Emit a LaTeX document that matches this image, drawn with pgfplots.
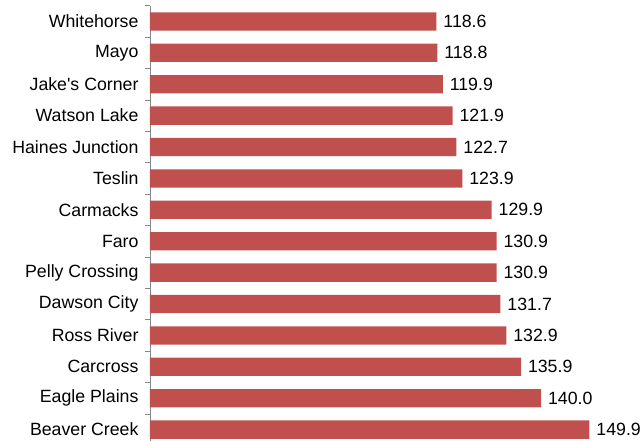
\documentclass[border=0pt]{standalone}
\usepackage{fontspec}
\setmainfont{Liberation Sans}
\usepackage{pgfplots}
\pgfplotsset{compat=1.18}
\definecolor{barred}{HTML}{C0504D}
\definecolor{axgray}{HTML}{868686}
\begin{document}
\begin{tikzpicture}
\begin{axis}[
  name=ax,
  scale only axis,
  width=488.8bp, height=439.6bp,
  xbar, bar width=18.3bp,
  xmin=60, xmax=160,
  ymin=-0.5, ymax=13.5,
  y dir=reverse,
  axis x line=none,
  axis y line*=left,
  y axis line style={axgray, line width=0.8bp},
  ytick={0,...,13},
  yticklabels={Whitehorse, Mayo, Jake\textquotesingle s Corner, Watson Lake, Haines Junction, Teslin, Carmacks, Faro, Pelly Crossing, Dawson City, Ross River, Carcross, Eagle Plains, Beaver Creek},
  major tick length=0pt,
  extra y ticks={-0.5,0.5,...,13.5},
  extra y tick labels={},
  extra y tick style={major tick length=5bp, tick align=outside, tick style={axgray, line width=0.8bp}},
  yticklabel style={font=\fontsize{17.8}{20}\selectfont, black, xshift=-8bp},
  point meta=x,
  nodes near coords,
  nodes near coords style={font=\fontsize{17.8}{20}\selectfont, black, anchor=west, xshift=3.5bp},
  /pgf/number format/.cd, fixed, fixed zerofill, precision=1, assume math mode=true,
]
\addplot[fill=barred, draw=none] coordinates {
  (118.6,0) (118.8,1) (119.9,2) (121.9,3) (122.7,4) (123.9,5) (129.9,6)
  (130.9,7) (130.9,8) (131.7,9) (132.9,10) (135.9,11) (140.0,12) (149.9,13)
};
\end{axis}
\pgfresetboundingbox
\useasboundingbox ([xshift=-150bp, yshift=5.7bp]ax.north west) rectangle ([xshift=5.2bp, yshift=-435.3bp]ax.north east);
\end{tikzpicture}
\end{document}
